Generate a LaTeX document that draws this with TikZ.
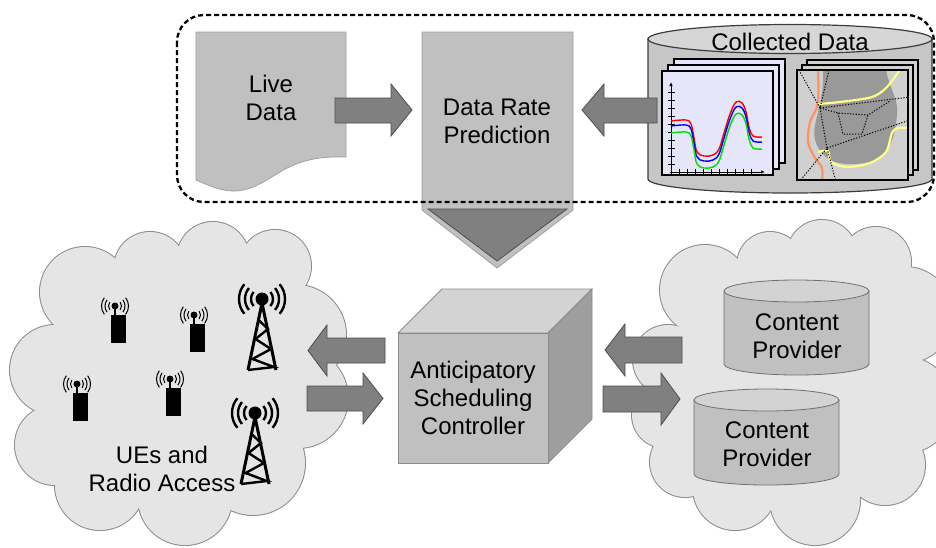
\documentclass[tikz,border=0pt]{standalone}
\usepackage{fontspec}
\setmainfont{Liberation Sans}
\usetikzlibrary{arrows.meta}
\definecolor{docgray}{HTML}{C0C0C0}
\definecolor{docedge}{HTML}{A0A0A0}
\definecolor{arrowgray}{HTML}{808080}
\definecolor{arrowedge}{HTML}{4D4D4D}
\definecolor{cloudfill}{HTML}{E5E5E5}
\definecolor{cloudline}{HTML}{8C8C8C}
\definecolor{cubefront}{HTML}{C0C0C0}
\definecolor{cubetop}{HTML}{D3D3D3}
\definecolor{cubeside}{HTML}{9E9E9E}
\definecolor{cubeedge}{HTML}{8A8A8A}
\definecolor{cylside}{HTML}{C0C0C0}
\definecolor{cyltop}{HTML}{D3D3D3}
\definecolor{cyledge}{HTML}{707070}
\definecolor{cdside}{HTML}{C6C6C6}
\definecolor{cdtop}{HTML}{D6D6D6}
\definecolor{cddark}{HTML}{3C3C3C}
\definecolor{chartbg}{HTML}{E6E6FA}
\definecolor{mapbg}{HTML}{D0D0D0}
\definecolor{mapblob}{HTML}{999999}
\definecolor{maporange}{HTML}{FF9060}
\definecolor{mapyellow}{HTML}{FFFF88}
\definecolor{plotgreen}{HTML}{00DD00}

% mobile terminal: dot, antenna stem, body and radio waves
\newcommand{\uedevice}[2]{%
  \begin{scope}[shift={(#1,#2)}]
    \fill (0,0) circle[radius=3.5];
    \draw[line width=2pt] (0,0) -- (0,10);
    \fill (-4,9) rectangle (11,37);
    \foreach \rr in {6.5,10,13.5}{
      \draw[line width=1pt] (0,0) ++(-38:\rr) arc[start angle=-38, end angle=38, radius=\rr];
      \draw[line width=1pt] (0,0) ++(142:\rr) arc[start angle=142, end angle=218, radius=\rr];
    }
  \end{scope}}

% base-station mast with radiating waves
\newcommand{\celltower}[2]{%
  \begin{scope}[shift={(#1,#2)}]
    \fill (0,0) circle[radius=6.5];
    \foreach \rr in {11,17,23}{
      \draw[line width=2.4pt] (0,0) ++(-40:\rr) arc[start angle=-40, end angle=40, radius=\rr];
      \draw[line width=2.4pt] (0,0) ++(140:\rr) arc[start angle=140, end angle=220, radius=\rr];
    }
    \draw[line width=3pt, line join=miter] (-14,71) -- (0,4) -- (14,71);
    \draw[line width=2.4pt, line join=miter]
      (-3.5,21) -- (6,30) -- (-6.5,40) -- (9,50) -- (-9.5,60) -- (12,68) -- (-14,71);
  \end{scope}}

\begin{document}
\begin{tikzpicture}[x=1pt,y=-1pt,
  lbl/.style={font=\fontsize{24}{28}\selectfont, align=center, inner sep=0pt, text=black},
  blockarrow/.style={fill=arrowgray, draw=arrowedge, line width=0.8pt, line join=miter},
  cloudrim/.style={draw=cloudline, line width=2pt},
  framebox/.style={draw=black, line width=2.6pt, line join=miter},
  mapdots/.style={draw=black, line width=1pt, dash pattern=on 1.2pt off 1.6pt}]
\useasboundingbox (0,0) rectangle (936,547);

% ---------- clouds ----------
\foreach \cx/\cy/\r in {85/292/45,150/268/36,213/258/36,275/266/36,296/335/50,298/398/50,
                         253/463/52,185/498/47,100/485/45,55/445/40,55/370/45}
  \draw[cloudrim] (\cx,\cy) circle[radius=\r];
\foreach \cx/\cy/\r in {85/292/45,150/268/36,213/258/36,275/266/36,296/335/50,298/398/50,
                         253/463/52,185/498/47,100/485/45,55/445/40,55/370/45}
  \fill[cloudfill] (\cx,\cy) circle[radius=\r];
\fill[cloudfill] (85,292) -- (150,268) -- (213,258) -- (275,266) -- (296,335) -- (298,398)
  -- (253,463) -- (185,498) -- (100,485) -- (55,445) -- (55,370) -- cycle;

\foreach \cx/\cy/\r in {705/290/45,770/265/33,822/255/35,876/262/35,905/315/48,905/405/48,
                         885/465/40,815/500/45,735/488/42,685/462/35,665/415/33,668/360/35}
  \draw[cloudrim] (\cx,\cy) circle[radius=\r];
\foreach \cx/\cy/\r in {705/290/45,770/265/33,822/255/35,876/262/35,905/315/48,905/405/48,
                         885/465/40,815/500/45,735/488/42,685/462/35,665/415/33,668/360/35}
  \fill[cloudfill] (\cx,\cy) circle[radius=\r];
\fill[cloudfill] (705,290) -- (770,265) -- (822,255) -- (876,262) -- (905,315) -- (905,405)
  -- (885,465) -- (815,500) -- (735,488) -- (685,462) -- (665,415) -- (668,360) -- cycle;

% ---------- radio access side ----------
\uedevice{115}{306}
\uedevice{194}{315}
\uedevice{77}{384}
\uedevice{170}{379}
\celltower{262}{299}
\celltower{255}{413}
\node[lbl] (ran) at (162,469) {UEs and\\Radio Access};

% ---------- content providers ----------
\path[fill=cylside, draw=cyledge, line width=0.8pt] (724,291) -- (724,364)
  arc[start angle=180, end angle=0, x radius=72.5, y radius=11] -- (869,291) -- cycle;
\path[fill=cyltop, draw=cyledge, line width=0.8pt] (796.5,291) ellipse[x radius=72.5, y radius=11];
\node[lbl] (cp1) at (797,336) {Content\\Provider};

\path[fill=cylside, draw=cyledge, line width=0.8pt] (694,400) -- (694,474)
  arc[start angle=180, end angle=0, x radius=72.5, y radius=11] -- (839,400) -- cycle;
\path[fill=cyltop, draw=cyledge, line width=0.8pt] (766.5,400) ellipse[x radius=72.5, y radius=11];
\node[lbl] (cp2) at (767,444) {Content\\Provider};

% ---------- scheduling controller cube ----------
\path[fill=cubetop, draw=cubeedge, line width=0.8pt] (398,333) -- (442,289) -- (592,289) -- (548,333) -- cycle;
\path[fill=cubeside, draw=cubeedge, line width=0.8pt] (548,333) -- (592,289) -- (592,419) -- (548,463) -- cycle;
\path[fill=cubefront, draw=cubeedge, line width=0.8pt] (398,333) rectangle (548,463);
\node[lbl] (asc) at (473,398) {Anticipatory\\Scheduling\\Controller};

% ---------- arrows between clouds and controller ----------
\path[blockarrow] (385,338) -- (327,338) -- (327,325) -- (308,350.5) -- (327,376) -- (327,363) -- (385,363) -- cycle;
\path[blockarrow] (307,386) -- (363,386) -- (363,373) -- (383,398.5) -- (363,424) -- (363,411) -- (307,411) -- cycle;
\path[blockarrow] (682,337) -- (625,337) -- (625,324) -- (605,350) -- (625,376) -- (625,363) -- (682,363) -- cycle;
\path[blockarrow] (603,386) -- (661,386) -- (661,373) -- (680,399) -- (661,425) -- (661,412) -- (603,412) -- cycle;

% ---------- prediction stage ----------
\path[fill=docgray, draw=docedge, line width=0.8pt] (196,32) -- (346,32) -- (346,157)
  .. controls (320,156) and (300,160) .. (280,172)
  .. controls (262,183) and (250,191) .. (234,191)
  .. controls (220,191) and (208,185) .. (196,180) -- cycle;
\node[lbl] (live) at (271,98) {Live\\Data};

\path[fill=docgray, draw=docedge, line width=0.8pt] (422,32) -- (573,32) -- (573,210) -- (497,268) -- (422,210) -- cycle;
\path[fill=arrowgray, draw=arrowedge, line width=0.8pt] (428,209) -- (567,209) -- (497,261) -- cycle;
\node[lbl] (drp) at (497,121) {Data Rate\\Prediction};

% collected data store
\path[fill=cdside, draw=cddark, line width=1.2pt] (648,39) -- (648,179)
  arc[start angle=180, end angle=0, x radius=142, y radius=14] -- (932,39) -- cycle;
\path[fill=cdtop, draw=cddark, line width=1.2pt] (790,39) ellipse[x radius=142, y radius=14.5];
\node[lbl] (coll) at (790,42) {Collected Data};

% stacked charts
\foreach \d in {12,6,0}
  \path[framebox, fill=chartbg] (662+\d,71-\d) rectangle (773+\d,175-\d);
\draw[line width=1pt, -{Latex[length=4pt,width=3.5pt]}] (671,174) -- (671,82);
\draw[line width=1pt, -{Latex[length=4pt,width=3.5pt]}] (670,172) -- (765,172);
\foreach \t in {92,100,...,164} \draw[line width=0.8pt] (667.5,\t) -- (674.5,\t);
\foreach \t in {679,687,...,755} \draw[line width=0.8pt] (\t,168.5) -- (\t,175.5);
\foreach \c/\s in {red/0,blue/5,plotgreen/12}
  \draw[\c, line width=1.4pt, shift={(0,\s)}] plot[smooth, tension=0.6] coordinates
    {(671,121) (686,120) (691,124) (694,138) (697,152) (704,156) (713,155) (719,149)
     (724,133) (730,114) (736,102) (742,103) (746,112) (749,127) (753,136) (762,137)};

% stacked maps
\foreach \d in {10,5,0}
  \path[framebox, fill=mapbg] (797+\d,70-\d) rectangle (908+\d,180-\d);
\begin{scope}
  \clip (797,70) rectangle (908,180);
  \fill[mapblob] (823,70) -- (886,70) .. controls (890,90) and (899,100) .. (897,115)
    .. controls (895,135) and (892,150) .. (875,160) .. controls (860,166) and (840,165) .. (830,160)
    .. controls (818,152) and (812,140) .. (815,125) .. controls (818,110) and (824,95) .. (823,70) -- cycle;
  \draw[maporange, line width=2.2pt] plot[smooth] coordinates
    {(818,68) (818,103) (810,122) (808,142) (815,158) (822,168) (822,183)};
  \draw[mapyellow, line width=2.2pt] plot[smooth] coordinates
    {(818,104) (840,102) (872,97) (887,87) (901,68)};
  \draw[mapyellow, line width=2.2pt] plot[smooth] coordinates
    {(818,152) (828,151) (831,162) (847,167) (870,163) (886,152) (892,133) (898,128) (910,128)};
  \coordinate (ma) at (820,108); \coordinate (mb) at (838,113); \coordinate (mc) at (868,115);
  \coordinate (md) at (890,101); \coordinate (me) at (910,97);  \coordinate (mf) at (843,134);
  \coordinate (mg) at (862,134); \coordinate (mh) at (890,125); \coordinate (mi) at (910,120);
  \coordinate (mj) at (827,148); \coordinate (mk) at (799,70);  \coordinate (ml) at (829,70);
  \coordinate (mm) at (799,182); \coordinate (mn) at (836,182);
  \draw[mapdots] (mk) -- (ma) -- (ml);
  \draw[mapdots] (ma) -- (me);
  \draw[mapdots] (ma) -- (mb) -- (mc) -- (md);
  \draw[mapdots] (mb) -- (mf) -- (mg) -- (mc);
  \draw[mapdots] (mj) -- (mi);
  \draw[mapdots] (ma) -- (mj);
  \draw[mapdots] (mm) -- (mj) -- (mn);
\end{scope}
\path[framebox] (797,70) rectangle (908,180);

% arrows into the prediction block
\path[blockarrow] (335,98) -- (391,98) -- (391,84) -- (412,110) -- (391,136) -- (391,123) -- (335,123) -- cycle;
\path[blockarrow] (657,98) -- (604,98) -- (604,84) -- (582,110) -- (604,136) -- (604,123) -- (657,123) -- cycle;

% boundary of the prediction stage
\draw[black, line width=2.3pt, dash pattern=on 5pt off 3pt, rounded corners=27pt] (177,15) rectangle (934,202);
\end{tikzpicture}
\end{document}
